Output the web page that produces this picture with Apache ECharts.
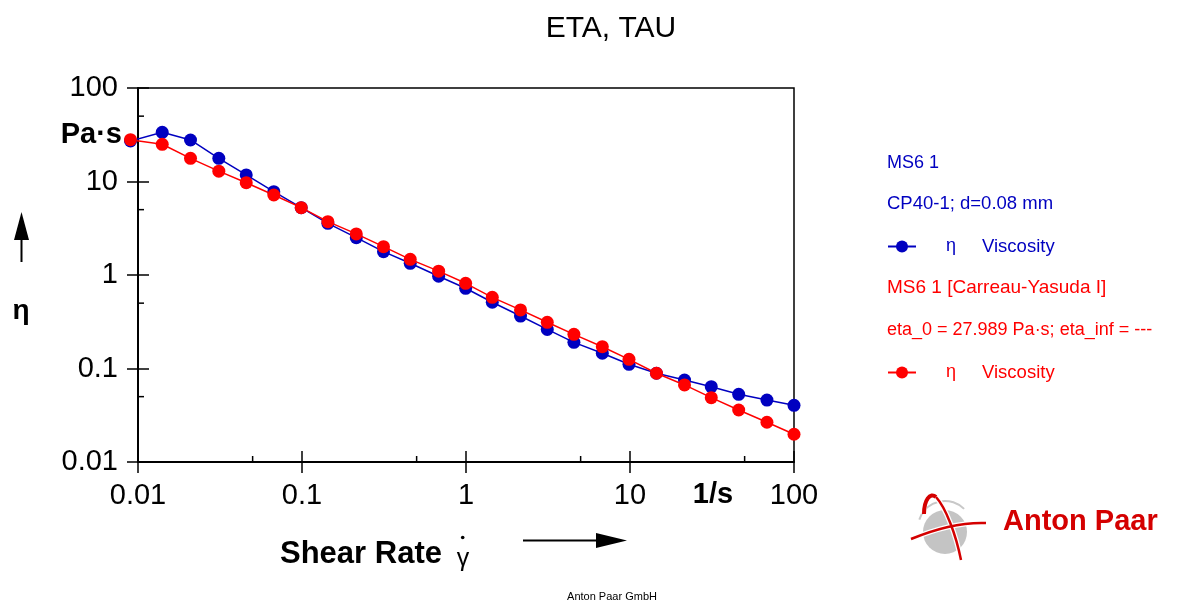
<!DOCTYPE html>
<html>
<head>
<meta charset="utf-8">
<script src="https://cdn.jsdelivr.net/npm/echarts@6/dist/echarts.min.js"></script>
<style>
  html, body { margin: 0; padding: 0; background: #fff; }
  #chart { width: 1184px; height: 601px; }
</style>
</head>
<body>
<div id="chart"></div>
<script>
// Shear rate steps (1/s), about six points per decade
const shearRate = [0.0090, 0.01405, 0.0209, 0.0311, 0.0457, 0.0673, 0.0989, 0.1438, 0.2143, 0.314,
  0.457, 0.681, 0.995, 1.446, 2.15, 3.13, 4.55, 6.78, 9.86, 14.5, 21.5, 31.3, 46.0, 68.4, 100];
// Measured viscosity (Pa·s)
const etaMeasured = [27.1, 33.6, 27.8, 17.7, 11.75, 7.79, 5.25, 3.57, 2.51, 1.776, 1.334, 0.971,
  0.721, 0.511, 0.364, 0.262, 0.1905, 0.1455, 0.1109, 0.0889, 0.0753, 0.0639, 0.0530, 0.0460, 0.0404];
// Carreau-Yasuda fit of the viscosity (Pa·s)
const etaFit = [27.989, 25.0, 17.7, 12.9, 9.71, 7.17, 5.25, 3.72, 2.75, 2.01, 1.47, 1.10,
  0.815, 0.577, 0.423, 0.312, 0.232, 0.171, 0.1254, 0.0889, 0.0667, 0.0488, 0.0360, 0.0266, 0.0198];

const xTicks = [0.01, 0.1, 1, 10, 100];
const xTickLabels = ['0.01', '0.1', '1', '10', '100'];
const yTicks = [0.01, 0.1, 1, 10, 100];
const yTickLabels = ['0.01', '0.1', '1', '10', '100'];
const xMinorTicks = [0.05, 0.5, 5, 50];
const yMinorTicks = [0.05, 0.5, 5, 50];

const BLUE = '#0000c0';
const RED = '#ff0000';
const LOGO_RED = '#d40000';
const FONT = '"Liberation Sans", Arial, sans-serif';

function tickLabel(v, ticks, labels) {
  const i = ticks.findIndex(t => Math.abs(Math.log10(t) - Math.log10(v)) < 1e-6);
  return i < 0 ? '' : labels[i];
}

const X_MIN = 0.01, X_MAX = 100, Y_MIN = 0.01, Y_MAX = 100;

function logAxis(min, max, position, withLabels, labelFn, inside, margin) {
  return {
    type: 'log', logBase: 10, min: min, max: max, position: position,
    axisLine: { show: withLabels, lineStyle: { color: '#000', width: 2 } },
    axisTick: { show: true, inside: inside, length: 11, lineStyle: { color: '#000', width: 1.5 } },
    axisLabel: withLabels ? {
      show: true, fontSize: 29, color: '#000', fontFamily: FONT, margin: margin,
      formatter: labelFn
    } : { show: false },
    splitLine: { show: false },
    minorTick: { show: false },
    minorSplitLine: { show: false }
  };
}

function curve(p, color, width) {
  return { type: 'bezierCurve',
    shape: { x1: p[0], y1: p[1], cpx1: p[2], cpy1: p[3], cpx2: p[4], cpy2: p[5], x2: p[6], y2: p[7] },
    style: { stroke: color, lineWidth: width, fill: null } };
}

const chart = echarts.init(document.getElementById('chart'), null, { renderer: 'canvas' });

// logo strokes: tall orbit and horizontal swoosh
const orbitA = [924, 514, 924, 500, 930, 492, 936, 497];
const orbitB = [936, 497, 946, 508, 956, 535, 961, 560];
const swoosh = [911, 539, 935, 529, 960, 522, 986, 523];

function legendBlock(name, top, color) {
  return {
    data: [name], left: 887, top: top, padding: 0,
    itemWidth: 28, itemHeight: 15, selectedMode: false,
    formatter: () => '{p| }{g|η}{t|Viscosity}',
    textStyle: {
      color: color, fontFamily: FONT, fontSize: 18,
      rich: {
        p: { width: 25, fontSize: 18 },
        g: { width: 36, fontSize: 18, color: color, fontFamily: FONT },
        t: { fontSize: 18.5, color: color, fontFamily: FONT }
      }
    }
  };
}

const option = {
  backgroundColor: '#fff',
  animation: false,
  grid: {
    left: 138, right: 390, top: 88, bottom: 139,
    show: true, borderColor: '#000', borderWidth: 1.5, backgroundColor: 'transparent'
  },
  xAxis: [
    logAxis(X_MIN, X_MAX, 'bottom', true, v => tickLabel(v, xTicks, xTickLabels), true, 19),
    logAxis(X_MIN, X_MAX, 'bottom', false, null, false, 0)
  ],
  yAxis: [
    logAxis(Y_MIN, Y_MAX, 'left', true, v => tickLabel(v, yTicks, yTickLabels), true, 20),
    logAxis(Y_MIN, Y_MAX, 'left', false, null, false, 0)
  ],
  legend: [
    legendBlock('MS6 1', 237, BLUE),
    legendBlock('MS6 1 [Carreau-Yasuda I]', 363, RED)
  ],
  series: [
    {
      name: 'MS6 1', type: 'line', xAxisIndex: 0, yAxisIndex: 0,
      data: shearRate.map((x, i) => [x, etaMeasured[i]]),
      symbol: 'circle', symbolSize: 13, clip: false,
      lineStyle: { color: BLUE, width: 1.5 },
      itemStyle: { color: BLUE },
      z: 3
    },
    {
      name: 'MS6 1 [Carreau-Yasuda I]', type: 'line', xAxisIndex: 0, yAxisIndex: 0,
      data: shearRate.map((x, i) => [x, etaFit[i]]),
      symbol: 'circle', symbolSize: 13, clip: false,
      lineStyle: { color: RED, width: 1.5 },
      itemStyle: { color: RED },
      z: 4
    },
    {
      // minor ticks on the shear-rate axis, pointing into the plot
      type: 'custom', xAxisIndex: 0, yAxisIndex: 0, silent: true, clip: false,
      data: xMinorTicks.map(v => [v, Y_MIN]),
      renderItem: (params, api) => {
        const p = api.coord([api.value(0), api.value(1)]);
        return { type: 'line', shape: { x1: p[0], y1: p[1], x2: p[0], y2: p[1] - 6 },
          style: { stroke: '#000', lineWidth: 1.5 } };
      }
    },
    {
      // minor ticks on the viscosity axis
      type: 'custom', xAxisIndex: 0, yAxisIndex: 0, silent: true, clip: false,
      data: yMinorTicks.map(v => [X_MIN, v]),
      renderItem: (params, api) => {
        const p = api.coord([api.value(0), api.value(1)]);
        return { type: 'line', shape: { x1: p[0], y1: p[1], x2: p[0] + 6, y2: p[1] },
          style: { stroke: '#000', lineWidth: 1.5 } };
      }
    }
  ],
  graphic: [
    { type: 'text', x: 611, y: 29, style: { text: 'ETA, TAU', font: '30px ' + FONT, fill: '#000', align: 'center', verticalAlign: 'middle' } },
    // axis units
    { type: 'text', x: 122, y: 135, style: { text: 'Pa·s', font: 'bold 29px ' + FONT, fill: '#000', align: 'right', verticalAlign: 'middle' } },
    { type: 'text', x: 713, y: 495, style: { text: '1/s', font: 'bold 29px ' + FONT, fill: '#000', align: 'center', verticalAlign: 'middle' } },
    // viscosity axis name with arrow
    { type: 'polygon', shape: { points: [[21.5, 212], [14, 240], [29, 240]] }, style: { fill: '#000' } },
    { type: 'line', shape: { x1: 21.5, y1: 238, x2: 21.5, y2: 262 }, style: { stroke: '#000', lineWidth: 2 } },
    { type: 'text', x: 21, y: 311, style: { text: 'η', font: 'bold 28px ' + FONT, fill: '#000', align: 'center', verticalAlign: 'middle' } },
    // shear rate axis name with arrow
    { type: 'text', x: 280, y: 554, style: { text: 'Shear Rate', font: 'bold 31px ' + FONT, fill: '#000', align: 'left', verticalAlign: 'middle' } },
    { type: 'text', x: 463, y: 559, style: { text: 'γ', font: '25px ' + FONT, fill: '#000', align: 'center', verticalAlign: 'middle' } },
    { type: 'circle', shape: { cx: 462.7, cy: 537.5, r: 1.8 }, style: { fill: '#000' } },
    { type: 'line', shape: { x1: 523, y1: 540.5, x2: 598, y2: 540.5 }, style: { stroke: '#000', lineWidth: 2 } },
    { type: 'polygon', shape: { points: [[627, 540.5], [596, 533], [596, 548]] }, style: { fill: '#000' } },
    // series descriptions
    { type: 'text', x: 887, y: 163, style: { text: 'MS6 1', font: '18px ' + FONT, fill: BLUE, align: 'left', verticalAlign: 'middle' } },
    { type: 'text', x: 887, y: 204, style: { text: 'CP40-1; d=0.08 mm', font: '18.5px ' + FONT, fill: BLUE, align: 'left', verticalAlign: 'middle' } },
    { type: 'text', x: 887, y: 288, style: { text: 'MS6 1 [Carreau-Yasuda I]', font: '19px ' + FONT, fill: RED, align: 'left', verticalAlign: 'middle' } },
    { type: 'text', x: 887, y: 330, style: { text: 'eta_0 = 27.989 Pa·s; eta_inf = ---', font: '18px ' + FONT, fill: RED, align: 'left', verticalAlign: 'middle' } },
    // footer
    { type: 'text', x: 612, y: 597, style: { text: 'Anton Paar GmbH', font: '11px ' + FONT, fill: '#000', align: 'center', verticalAlign: 'middle' } },
    // company logo
    {
      type: 'group', x: 0, y: 0,
      children: [
        { type: 'arc', shape: { cx: 945, cy: 528, r: 27, startAngle: Math.PI * 1.1, endAngle: Math.PI * 1.75 }, style: { stroke: '#c8c8c8', lineWidth: 2, fill: null } },
        { type: 'circle', shape: { cx: 945, cy: 532, r: 22 }, style: { fill: '#c4c4c4' } },
        curve(orbitA, '#fff', 5),
        curve(orbitB, '#fff', 5),
        curve(swoosh, '#fff', 5),
        curve(orbitA, LOGO_RED, 4),
        curve(orbitB, LOGO_RED, 2.5),
        curve(swoosh, LOGO_RED, 2.5),
        { type: 'text', x: 1003, y: 522, style: { text: 'Anton Paar', font: 'bold 29px ' + FONT, fill: LOGO_RED, align: 'left', verticalAlign: 'middle' } }
      ]
    }
  ]
};

chart.setOption(option);
</script>
</body>
</html>
